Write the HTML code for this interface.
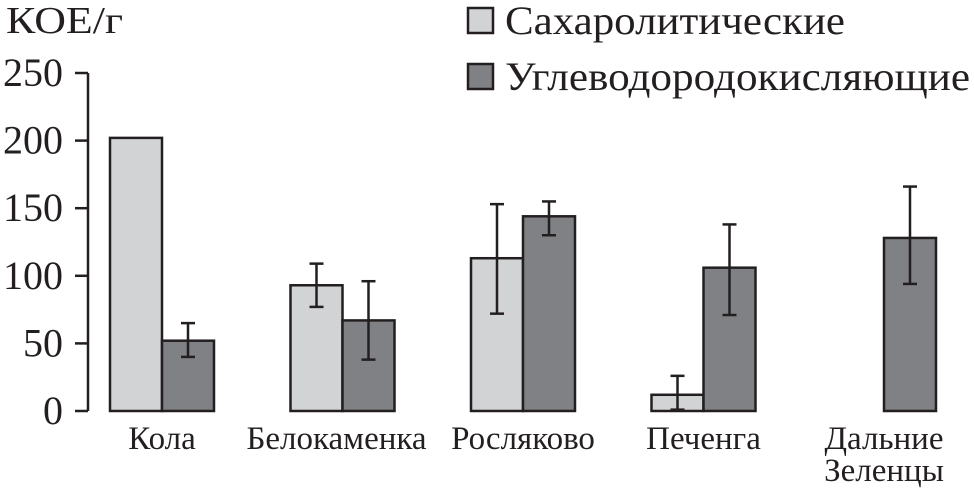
<!DOCTYPE html>
<html><head><meta charset="utf-8"><style>
body{margin:0;background:#fff}
svg text{font-family:"Liberation Serif",serif;fill:#231f20}
</style></head><body>
<svg id="c" width="974" height="490" xmlns="http://www.w3.org/2000/svg"></svg>
<script>
const categories=["Кола","Белокаменка","Росляково","Печенга","Дальние|Зеленцы"];
const sugarVals=[202,93,113,12,0];
const sugarLo=[null,77,72,1,null];
const sugarHi=[null,109,153,26,null];
const hydroVals=[52,67,144,106,128];
const hydroLo=[40,38,130,71,94];
const hydroHi=[65,96,155,138,166];
const yTicks=[0,50,100,150,200,250];
const NS="http://www.w3.org/2000/svg";
const svg=document.getElementById('c');
const y0=411,yScale=(411-73)/250;
const y=v=>y0-v*yScale;
const gx=i=>110+i*180.5;
const bw=52;
function el(t,a,p){const e=document.createElementNS(NS,t);for(const k in a)e.setAttribute(k,a[k]);(p||svg).appendChild(e);return e;}
const ax=el('line',{x1:88,y1:y(0),x2:88,y2:y(250),stroke:'#231f20','stroke-width':2.5});


yTicks.forEach(t=>{
 const l=el('line',{x1:75,x2:88,y1:y(t),y2:y(t),stroke:'#231f20','stroke-width':2.5});
 
 
 const tx=el('text',{x:63,y:y(t)+13,'text-anchor':'end','font-size':40});
 tx.textContent=t;
 
 
});
const yt=el('text',{x:6,y:33,'font-size':38,textLength:117,lengthAdjust:'spacingAndGlyphs'});yt.textContent='КОЕ/г';


function bar(x,v,fill,name){
 if(v<=0)return;
 const r=el('rect',{x:x,y:y(v),width:bw,height:y(0)-y(v),fill:fill,stroke:'#231f20','stroke-width':2.5});
 
 
}
function err(cx,lo,hi){
 if(lo==null)return;
 const g=el('g',{stroke:'#231f20','stroke-width':2.5});
 
 
 el('line',{x1:cx,x2:cx,y1:y(lo),y2:y(hi)},g);
 el('line',{x1:cx-7,x2:cx+7,y1:y(lo),y2:y(lo)},g);
 el('line',{x1:cx-7,x2:cx+7,y1:y(hi),y2:y(hi)},g);
}
categories.forEach((c,i)=>{
 const x=gx(i);
 bar(x,sugarVals[i],'#d2d3d5','bar-saccharolytic');
 bar(x+bw,hydroVals[i],'#808184','bar-hydrocarbon');
 err(x+bw/2,sugarLo[i],sugarHi[i]);
 err(x+bw*1.5,hydroLo[i],hydroHi[i]);
 const parts=c.split('|');
 const cx=i===1?x+bw-6:x+bw;
 parts.forEach((p,j)=>{
  const t=el('text',{x:cx,y:449+j*32,'text-anchor':'middle','font-size':33});
  t.textContent=p;
  
  
 });
});
[['Сахаролитические','#d2d3d5',8,340],['Углеводородокисляющие','#808184',64,465]].forEach(([t,f,ty,w])=>{
 const r=el('rect',{x:468,y:ty,width:25,height:25,fill:f,stroke:'#231f20','stroke-width':2.5});
 
 
 const tx=el('text',{x:505,y:ty+26,'font-size':40,textLength:w,lengthAdjust:'spacingAndGlyphs'});tx.textContent=t;
 
 
});
</script>
</body></html>
